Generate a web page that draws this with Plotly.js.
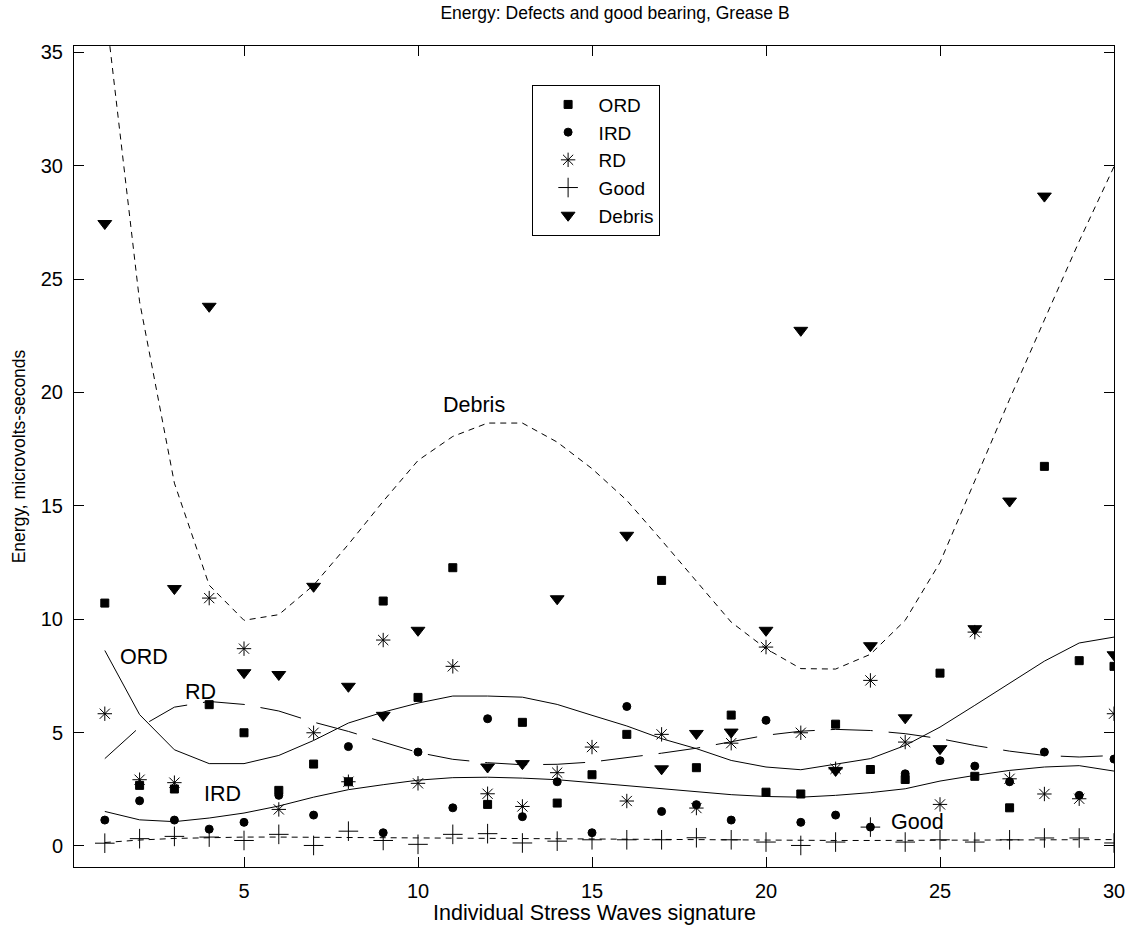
<!DOCTYPE html>
<html>
<head>
<meta charset="utf-8">
<script src="https://cdn.plot.ly/plotly-3.0.1.min.js"></script>
<style>
  html, body { margin: 0; padding: 0; background: #fff; }
  #chart { width: 1142px; height: 931px; }
</style>
</head>
<body>
<div id="chart"></div>
<script>
// Signature index (x)
const signature = [1,2,3,4,5,6,7,8,9,10,11,12,13,14,15,16,17,18,19,20,21,22,23,24,25,26,27,28,29,30];

// Measured energy values (microvolts-seconds)
const ordVals = [10.71, 2.67, 2.51, 6.23, 4.99, 2.45, 3.61, 2.83, 10.80, 6.55, 12.27, 1.83, 5.45, 1.89, 3.14, 4.92, 11.71, 3.45, 5.77, 2.37, 2.29, 5.37, 3.37, 2.93, 7.62, 3.07, 1.68, 16.74, 8.17, 7.92];
const irdVals = [1.14, 1.99, 1.14, 0.74, 1.04, 2.23, 1.36, 4.38, 0.58, 4.14, 1.68, 5.61, 1.29, 2.83, 0.58, 6.15, 1.52, 1.82, 1.14, 5.54, 1.04, 1.36, 0.83, 3.18, 3.76, 3.52, 2.83, 4.14, 2.23, 3.83];
const rdVals = [5.83, 2.92, 2.79, 10.93, 8.70, 1.61, 4.99, 2.83, 9.08, 2.76, 7.92, 2.30, 1.74, 3.23, 4.36, 1.98, 4.92, 1.67, 4.53, 8.77, 4.99, 3.40, 7.30, 4.58, 1.83, 9.43, 2.96, 2.29, 2.08, 5.83];
const goodVals = [0.12, 0.32, 0.42, 0.39, 0.24, 0.51, 0.02, 0.65, 0.24, 0.07, 0.51, 0.54, 0.13, 0.21, 0.27, 0.27, 0.27, 0.36, 0.27, 0.17, 0.02, 0.17, 0.83, 0.17, 0.27, 0.17, 0.27, 0.35, 0.35, 0.13];
const debrisVals = [27.45, null, 11.35, 23.80, 7.64, 7.56, 11.45, 7.04, 5.76, 9.51, null, 3.48, 3.63, 10.90, null, 13.70, 3.40, 4.96, 5.02, 9.51, 22.74, 3.33, 8.83, 5.65, 4.29, 9.58, 15.21, 28.66, null, 8.43];

// Fitted trend curves
const ordFit = [8.62, 5.79, 4.24, 3.63, 3.63, 3.99, 4.65, 5.42, 5.90, 6.30, 6.61, 6.61, 6.56, 6.24, 5.76, 5.29, 4.73, 4.29, 3.77, 3.48, 3.36, 3.60, 3.85, 4.43, 5.24, 6.20, 7.18, 8.15, 8.95, 9.21];
const irdFit = [1.52, 1.15, 1.07, 1.23, 1.45, 1.76, 2.15, 2.48, 2.70, 2.90, 3.01, 3.03, 2.99, 2.92, 2.79, 2.65, 2.51, 2.37, 2.26, 2.18, 2.15, 2.23, 2.35, 2.52, 2.86, 3.11, 3.33, 3.48, 3.54, 3.30];
const rdFit = [3.85, 5.24, 6.12, 6.37, 6.24, 5.95, 5.46, 5.05, 4.58, 4.12, 3.82, 3.67, 3.58, 3.60, 3.70, 3.89, 4.09, 4.31, 4.58, 4.88, 5.06, 5.14, 5.09, 4.95, 4.73, 4.43, 4.18, 3.99, 3.92, 3.99];
const goodFit = [0.15, 0.26, 0.33, 0.37, 0.39, 0.39, 0.38, 0.37, 0.36, 0.35, 0.33, 0.32, 0.30, 0.29, 0.28, 0.27, 0.26, 0.25, 0.25, 0.24, 0.24, 0.24, 0.24, 0.25, 0.26, 0.27, 0.28, 0.29, 0.29, 0.28];
const debrisFit = [37.2, 24.0, 16.0, 11.5, 9.95, 10.2, 11.5, 13.3, 15.2, 17.0, 18.06, 18.65, 18.65, 17.81, 16.64, 15.24, 13.48, 11.7, 9.87, 8.70, 7.82, 7.80, 8.45, 9.95, 12.5, 16.1, 19.7, 23.2, 26.67, 29.96];

const xTicks = [5, 10, 15, 20, 25, 30];
const yTicks = [0, 5, 10, 15, 20, 25, 30, 35];

const FONT = 'Liberation Sans, Arial, Helvetica, sans-serif';
const BLACK = '#000000';

function fitLine(y, dash) {
  return { x: signature, y: y, type: 'scatter', mode: 'lines', showlegend: false, hoverinfo: 'skip',
           line: { color: BLACK, width: 1, dash: dash } };
}
function pts(name, y, symbol, size) {
  return { x: signature, y: y, name: name, type: 'scatter', mode: 'markers',
           marker: { symbol: symbol, size: size, color: BLACK, line: { color: BLACK, width: 1 } } };
}

const traces = [
  fitLine(ordFit, 'solid'),
  fitLine(irdFit, 'solid'),
  fitLine(rdFit, '42px,16px'),
  fitLine(goodFit, '6px,5px'),
  fitLine(debrisFit, '6px,5px'),
  pts('ORD', ordVals, 'square', 8),
  pts('IRD', irdVals, 'circle', 8),
  pts('RD', rdVals, 'asterisk-open', 12),
  pts('Good', goodVals, 'cross-thin-open', 14),
  pts('Debris', debrisVals, 'triangle-down', 12)
];

const layout = {
  width: 1142, height: 931,
  margin: { l: 74, r: 28, t: 46, b: 64 },
  paper_bgcolor: '#ffffff', plot_bgcolor: '#ffffff',
  font: { family: FONT, size: 20, color: BLACK },
  title: { text: 'Energy: Defects and good bearing, Grease B', font: { family: FONT, size: 17.5, color: BLACK },
           x: 615 / 1142, xanchor: 'center', xref: 'container', y: 1 - 7 / 931, yanchor: 'top' },
  xaxis: {
    range: [0.115, 30], tickvals: xTicks, ticktext: xTicks.map(String),
    ticks: 'inside', ticklen: 10, tickcolor: BLACK, tickwidth: 1,
    showline: true, linecolor: BLACK, linewidth: 1, mirror: 'ticks',
    showgrid: false, zeroline: false, ticklabelstandoff: 6,
    tickfont: { family: FONT, size: 20 }
  },
  yaxis: {
    range: [-0.93, 35.28], tickvals: yTicks, ticktext: yTicks.map(String),
    ticks: 'inside', ticklen: 10, tickcolor: BLACK, tickwidth: 1,
    showline: true, linecolor: BLACK, linewidth: 1, mirror: 'ticks',
    showgrid: false, zeroline: false, ticklabelstandoff: 6,
    title: { text: 'Energy, microvolts-seconds', font: { family: FONT, size: 17.5 }, standoff: 10 },
    tickfont: { family: FONT, size: 20 }
  },
  legend: {
    x: 0.44, y: 0.953, xanchor: 'left', yanchor: 'top',
    bordercolor: BLACK, borderwidth: 1, bgcolor: '#ffffff',
    font: { family: FONT, size: 19, color: BLACK }, indentation: 5, itemwidth: 51, tracegroupgap: 0
  },
  annotations: [
    { xref: 'paper', yref: 'paper', x: 0.5, y: -46 / 821, xanchor: 'center', yanchor: 'middle',
      text: 'Individual Stress Waves signature', showarrow: false, font: { family: FONT, size: 21.5 } },
    { x: 2.13, y: 8.34, text: 'ORD', showarrow: false, font: { family: FONT, size: 21.5 } },
    { x: 3.74, y: 6.79, text: 'RD', showarrow: false, font: { family: FONT, size: 21.5 } },
    { x: 4.38, y: 2.27, text: 'IRD', showarrow: false, font: { family: FONT, size: 21.5 } },
    { x: 24.34, y: 1.04, text: 'Good', showarrow: false, font: { family: FONT, size: 21.5 } },
    { x: 11.61, y: 19.43, text: 'Debris', showarrow: false, font: { family: FONT, size: 21.5 } }
  ],
  showlegend: true
};

Plotly.newPlot('chart', traces, layout, { displayModeBar: false, staticPlot: true });
</script>
</body>
</html>
